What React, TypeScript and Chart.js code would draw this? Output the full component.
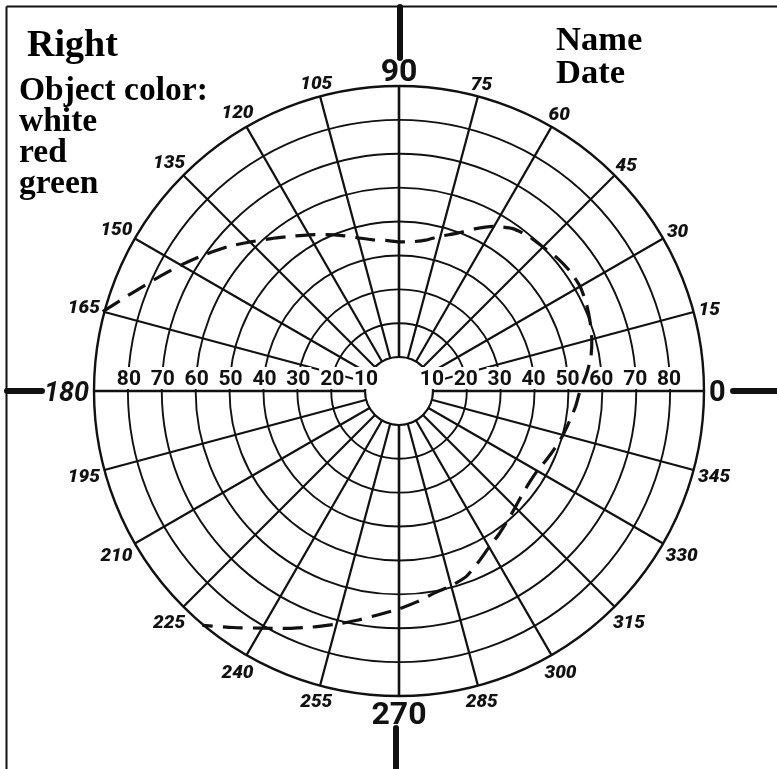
import React, { useEffect, useRef } from 'react';
import { Chart, registerables } from 'chart.js';

Chart.register(...registerables);

// Meridians of the perimetry chart (degrees, counter-clockwise from the right)
const angles = [
  0, 5, 10, 15, 20, 25, 30, 35, 40, 45, 50, 55, 60, 65, 70, 75, 80, 85,
  90, 95, 100, 105, 110, 115, 120, 125, 130, 135, 140, 145, 150, 155, 160, 165,
  170, 175, 180, 185, 190, 195, 200, 205, 210, 215, 220, 225,
  230, 235, 240, 245, 250, 255, 260, 265, 270, 275, 280, 285, 290, 295, 300, 305,
  310, 315, 320, 325, 330, 335, 340, 345, 350, 355,
];

// Visual field limit (eccentricity in degrees) along each meridian; null = not plotted
const fieldLimit = [
  53.4, 55.5, 57.5, 58.9, 60.0, 61.0, 61.7, 61.6, 61.0, 60.1, 59.6, 58.5, 56.1, 52.8, 49.5, 47.3, 45.2, 44.2,
  44.0, 44.6, 45.3, 46.8, 48.8, 50.9, 53.2, 55.7, 58.7, 62.2, 66.2, 70.1, 74.3, 78.8, 84.1, 90.5,
  null, null, null, null, null, null, null, null, null, null, null, null,
  90.3, 85.2, 80.8, 77.3, 74.1, 71.2, 68.6, 66.2, 64.3, 62.4, 60.5, 59.5, 58.2, 55.6, 53.2, 51.5,
  49.9, 48.5, 47.5, 47.0, 47.1, 48.0, 49.0, 50.1, 51.1, 52.3,
];

// Labelled spokes
const spokeLabels = [0, 15, 30, 45, 60, 75, 90, 105, 120, 135, 150, 165, 180, 195, 210, 225, 240, 255, 270, 285, 300, 315, 330, 345];
const majorLabels = [0, 90, 180, 270];

// Eccentricity rings
const ringTicks = [10, 20, 30, 40, 50, 60, 70, 80];

const INK = '#111111';

// Radar goes clockwise from its start angle: reorder meridians accordingly
const chartLabels = [angles[0], ...angles.slice(1).reverse()];
const chartValues = [fieldLimit[0], ...fieldLimit.slice(1).reverse()];

const decorPlugin = {
  id: 'perimetryDecor',
  beforeDatasetsDraw(chart: any) {
    const s = chart.scales.r;
    const ctx = chart.ctx as CanvasRenderingContext2D;
    const cx = s.xCenter;
    const cy = s.yCenter;
    const R = s.drawingArea;
    ctx.save();

    // central blind disc
    const r10 = s.getDistanceFromCenterForValue(ringTicks[0]);
    ctx.beginPath();
    ctx.arc(cx, cy, r10, 0, Math.PI * 2);
    ctx.fillStyle = '#ffffff';
    ctx.fill();
    ctx.lineWidth = 2;
    ctx.strokeStyle = INK;
    ctx.stroke();

    // ring value labels along the horizontal meridian
    ctx.font = 'bold 21px Roboto, "DejaVu Sans", sans-serif';
    ctx.textAlign = 'center';
    ctx.textBaseline = 'alphabetic';
    ringTicks.forEach((v) => {
      const d = s.getDistanceFromCenterForValue(v);
      [-1, 1].forEach((side) => {
        const text = String(v);
        const x = cx + side * (d - 1);
        const w = ctx.measureText(text).width;
        ctx.fillStyle = '#ffffff';
        ctx.fillRect(x - w / 2 - 1, cy - 24, w + 2, 22);
        ctx.fillStyle = INK;
        ctx.fillText(text, x, cy - 6);
      });
    });

    // meridian labels around the outer ring
    chartLabels.forEach((a, i) => {
      if (!spokeLabels.includes(a)) return;
      const big = majorLabels.includes(a);
      let size = 19;
      let style = 'italic 900';
      if (big) {
        size = a === 90 || a === 270 ? 32 : a === 180 ? 27 : 29;
        style = a === 180 ? 'italic bold' : 'bold';
      }
      ctx.font = `${style} ${size}px Roboto, "DejaVu Sans", sans-serif`;
      const text = String(a);
      const w = ctx.measureText(text).width;
      const h = size * 0.72;
      const p0 = s.getPointPosition(i, R);
      const half = Math.abs(Math.cos(p0.angle)) * w / 2 + Math.abs(Math.sin(p0.angle)) * h / 2;
      const p = s.getPointPosition(i, R + (big ? 5 : 4) + half);
      ctx.fillStyle = INK;
      ctx.textAlign = 'center';
      ctx.fillText(text, p.x, p.y + h / 2);
    });

    // frame lines
    ctx.strokeStyle = INK;
    ctx.lineWidth = 2;
    ctx.beginPath();
    ctx.moveTo(6.5, 6.5);
    ctx.lineTo(chart.width, 6.5);
    ctx.moveTo(6.5, 6.5);
    ctx.lineTo(6.5, chart.height);
    ctx.stroke();

    // heavy axis marks outside the circle
    ctx.lineWidth = 6;
    ctx.lineCap = 'round';
    ctx.beginPath();
    ctx.moveTo(cx + 1, 7);
    ctx.lineTo(cx + 1, cy - 333);
    ctx.moveTo(cx - 3, cy + 337);
    ctx.lineTo(cx - 3, chart.height + 5);
    ctx.moveTo(7, cy);
    ctx.lineTo(cx - 357, cy);
    ctx.moveTo(cx + 334, cy);
    ctx.lineTo(chart.width + 5, cy);
    ctx.stroke();

    ctx.restore();
  },
};

export default function App() {
  const canvasRef = useRef<HTMLCanvasElement | null>(null);

  useEffect(() => {
    if (!canvasRef.current) return;
    const chart = new Chart(canvasRef.current, {
      type: 'radar',
      data: {
        labels: chartLabels,
        datasets: [
          {
            data: chartValues as any,
            borderColor: INK,
            backgroundColor: 'transparent',
            borderWidth: 3.2,
            borderDash: [20, 10],
            pointRadius: 0,
            pointHoverRadius: 0,
            fill: false,
            tension: 0.2,
            spanGaps: false,
          },
        ],
      },
      options: {
        responsive: false,
        animation: false,
        devicePixelRatio: 1,
        events: [],
        layout: { padding: { left: 94, top: 86, right: 73, bottom: 73 } },
        plugins: { legend: { display: false }, tooltip: { enabled: false } },
        scales: {
          r: {
            min: 0,
            max: 90,
            startAngle: 90,
            ticks: { display: false, stepSize: 10 },
            pointLabels: { display: false },
            grid: {
              circular: true,
              color: INK,
              lineWidth: (c: any) => (c.tick && c.tick.value === 90 ? 2.4 : 1.9),
            },
            angleLines: {
              color: INK,
              lineWidth: (c: any) => {
                const a = chartLabels[c.index];
                if (!spokeLabels.includes(a)) return 0;
                return majorLabels.includes(a) ? 2.6 : 2.2;
              },
            },
          },
        },
      } as any,
      plugins: [decorPlugin],
    });
    return () => chart.destroy();
  }, []);

  const serif = '"Liberation Serif", "Times New Roman", serif';
  return (
    <div style={{ position: 'fixed', left: 0, top: 0, width: 777, height: 769, background: '#fff', overflow: 'hidden' }}>
      <canvas ref={canvasRef} width={777} height={769} style={{ position: 'absolute', left: 0, top: 0, width: 777, height: 769 }} />
      <div style={{ position: 'absolute', left: 27, top: 24, fontFamily: serif, fontWeight: 'bold', fontSize: 38, lineHeight: '38px', color: '#000', whiteSpace: 'nowrap' }}>
        Right
      </div>
      <div style={{ position: 'absolute', left: 19, top: 73, fontFamily: serif, fontWeight: 'bold', fontSize: 33.5, lineHeight: '31px', color: '#000', whiteSpace: 'nowrap' }}>
        <div>Object color:</div>
        <div>white</div>
        <div>red</div>
        <div>green</div>
      </div>
      <div style={{ position: 'absolute', left: 556, top: 22, fontFamily: serif, fontWeight: 'bold', fontSize: 34.5, lineHeight: '33px', color: '#000', whiteSpace: 'nowrap' }}>
        <div>Name</div>
        <div>Date</div>
      </div>
    </div>
  );
}
